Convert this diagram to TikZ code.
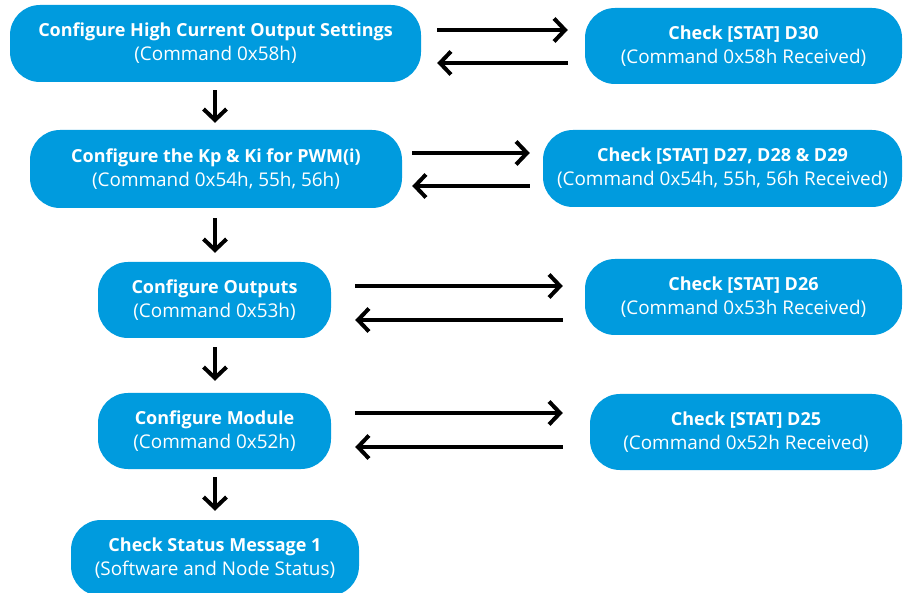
\documentclass[tikz,border=0pt]{standalone}
\usepackage{fontspec}
\setmainfont{Open Sans}
\usetikzlibrary{arrows.meta}
\definecolor{boxblue}{RGB}{0,155,222}
\newcommand{\titleline}[1]{{\fontsize{18}{24}\selectfont\bfseries #1}}
\newcommand{\subline}[1]{{\fontsize{18.9}{24}\selectfont #1}}
\begin{document}
\begin{tikzpicture}[x=1pt,y=-1pt,
  box/.style={fill=boxblue,rounded corners=30pt,inner sep=0pt,text=white,align=center,font=\fontsize{18}{24}\selectfont},
  arr/.style={line width=4pt,-{Straight Barb[length=11pt,width=23pt,line width=4pt]}}]
\useasboundingbox (0,0) rectangle (905,593);
\newcommand{\bx}[7]{\node[box,minimum width={#4-#2},minimum height={#5-#3}] (#1) at ({(#2+#4)/2},{(#3+#5)/2}) {\titleline{#6}\\\subline{#7}};}
\bx{a}{10}{5}{421}{82}{Configure High Current Output Settings}{(Command 0x58h)}
\bx{ar}{585}{8}{902}{84}{Check [STAT] D30}{(Command 0x58h Received)}
\bx{b}{30}{130}{402}{208}{Configure the Kp \& Ki for PWM(i)}{(Command 0x54h, 55h, 56h)}
\bx{br}{543}{130}{902}{207}{Check [STAT] D27, D28 \& D29}{(Command 0x54h, 55h, 56h Received)}
\bx{c}{98}{262}{331}{338}{Configure Outputs}{(Command 0x53h)}
\bx{cr}{585}{259}{902}{335}{Check [STAT] D26}{(Command 0x53h Received)}
\bx{d}{98}{393}{331}{469}{Configure Module}{(Command 0x52h)}
\bx{dr}{590}{394}{902}{470}{Check [STAT] D25}{(Command 0x52h Received)}
\bx{e}{71}{520}{359}{596}{Check Status Message 1}{(Software and Node Status)}
% horizontal arrows
\draw[arr] ([shift={(16,-13.5)}]a.east) -- ([shift={(-17,-16)}]ar.west);
\draw[arr] ([shift={(-17,17)}]ar.west) -- ([shift={(16,19.5)}]a.east);
\draw[arr] ([shift={(10,-16)}]b.east) -- ([shift={(-13,-15.5)}]br.west);
\draw[arr] ([shift={(-13,17.5)}]br.west) -- ([shift={(10,17)}]b.east);
\draw[arr] ([shift={(24,-14)}]c.east) -- ([shift={(-22,-11)}]cr.west);
\draw[arr] ([shift={(-22,23)}]cr.west) -- ([shift={(24,20)}]c.east);
\draw[arr] ([shift={(24,-18)}]d.east) -- ([shift={(-27,-19)}]dr.west);
\draw[arr] ([shift={(-27,15)}]dr.west) -- ([shift={(24,16)}]d.east);
% vertical arrows
\coordinate (xc) at (215,0);
\draw[arr] ([yshift=-8pt]a.south -| xc) -- ([yshift=7pt]b.north -| xc);
\draw[arr] ([yshift=-10pt]b.south -| xc) -- ([yshift=9pt]c.north -| xc);
\draw[arr] ([yshift=-9pt]c.south -| xc) -- ([yshift=12pt]d.north -| xc);
\draw[arr] ([yshift=-8pt]d.south -| xc) -- ([yshift=9pt]e.north -| xc);
\end{tikzpicture}
\end{document}
